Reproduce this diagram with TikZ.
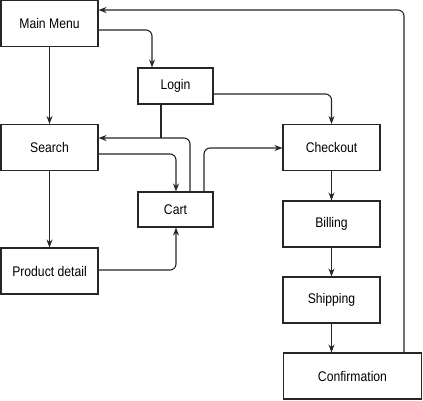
\documentclass[tikz,border=0pt]{standalone}
\usepackage{fontspec}
\setmainfont[FakeStretch=0.87]{Liberation Sans}
\usetikzlibrary{arrows.meta}

\begin{document}
\begin{tikzpicture}[x=1pt, y=-1pt, line width=1.1pt, black!85,
    screen/.style={draw, fill=white, text=black, font=\fontsize{14}{16}\selectfont, inner sep=0pt},
    link/.style={-{Stealth[length=8pt,width=6pt]}, rounded corners=6pt}]
  \useasboundingbox (0,0) rectangle (423,400);

  \node[screen, minimum width=97pt, minimum height=46pt] (mainmenu) at (49.5,23.5) {Main Menu};
  \node[screen, minimum width=75pt, minimum height=36pt] (login) at (175.5,86) {Login};
  \node[screen, minimum width=97pt, minimum height=46pt] (search) at (49.5,147.5) {Search};
  \node[screen, minimum width=75pt, minimum height=35pt] (cart) at (175.5,209.5) {Cart};
  \node[screen, minimum width=97pt, minimum height=46pt] (product) at (49.5,271) {Product detail};
  \node[screen, minimum width=97pt, minimum height=46pt] (checkout) at (331.5,147.5) {Checkout};
  \node[screen, minimum width=97pt, minimum height=46pt] (billing) at (331.5,224) {Billing};
  \node[screen, minimum width=97pt, minimum height=46pt] (shipping) at (331.5,300) {Shipping};
  \node[screen, minimum width=138pt, minimum height=46pt] (confirm) at (352.5,376) {Confirmation};

  % left column
  \draw[link] (mainmenu) -- (search);
  \draw[link] (search) -- (product);

  % into login and checkout
  \draw[link] (mainmenu.east |- 0,30) -| (login.north -| 152,0);
  \draw[link] (login.east |- 0,94) -| (checkout.north);

  % around the cart
  \coordinate (joint) at (161,138);
  \draw (login.south -| 161,0) -- (joint);
  \draw[link] (cart.north -| 190,0) |- (search.east |- 0,138);
  \draw[link] (search.east |- 0,154) -| (cart.north -| 176,0);
  \draw[link] (cart.north -| 204,0) |- (checkout.west |- 0,148);
  \draw[link] (product.east |- 0,270) -| (cart.south -| 176,0);

  % order steps
  \draw[link] (checkout) -- (billing);
  \draw[link] (billing) -- (shipping);
  \draw[link] (shipping.south) -- (confirm.north -| shipping.south);

  % back to the start
  \draw[link] (confirm.north -| 404,0) |- (mainmenu.east |- 0,10);
\end{tikzpicture}
\end{document}
